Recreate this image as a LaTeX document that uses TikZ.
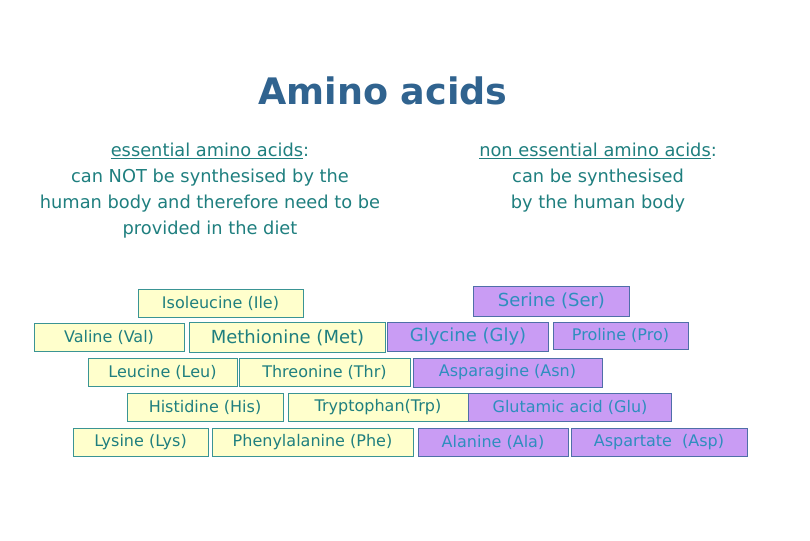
\documentclass[tikz,border=0pt]{standalone}
\usepackage{fontspec}
\setmainfont{DejaVu Sans}
\definecolor{titleblue}{HTML}{30638F}
\definecolor{tealtext}{HTML}{1F7F7F}
\definecolor{yfill}{HTML}{FFFFCC}
\definecolor{yborder}{HTML}{3A9494}
\definecolor{pfill}{HTML}{C99CF4}
\definecolor{pborder}{HTML}{4F6FA8}
\definecolor{ptext}{HTML}{2E8EBE}
\begin{document}
\begin{tikzpicture}[x=1pt,y=-1pt,
  ess/.style={draw=yborder, fill=yfill, line width=1pt, inner sep=0pt, text=tealtext, font=\fontsize{16}{18}\selectfont},
  non/.style={draw=pborder, fill=pfill, line width=1pt, inner sep=0pt, text=ptext, font=\fontsize{16}{18}\selectfont},
  big/.style={font=\fontsize{18}{20}\selectfont},
  desc/.style={text=tealtext, align=center, font=\fontsize{17.8}{26}\selectfont}]
\fill[white] (0,0) rectangle (810,540);
\path[use as bounding box] (0,0) rectangle (810,540);
\node[text=titleblue, font=\fontsize{36.5}{40}\selectfont\bfseries] (title) at (383,91) {Amino acids};
\node[desc] (ldesc) at (210,191) {\underline{essential amino acids}:\\can NOT be synthesised by the\\human body and therefore need to be\\provided in the diet};
\node[desc] (rdesc) at (598,178) {\underline{non essential amino acids}:\\can be synthesised\\by the human body};
% essential
\node[ess, minimum width=165pt, minimum height=28pt] (ile) at (220.5,303.5) {Isoleucine (Ile)};
\node[ess, minimum width=150pt, minimum height=28pt] (val) at (109,337.5) {Valine (Val)};
\node[ess, big, minimum width=196pt, minimum height=30pt] (met) at (287.5,337.5) {Methionine (Met)};
\node[ess, minimum width=149pt, minimum height=28pt] (leu) at (162.5,372) {Leucine (Leu)};
\node[ess, minimum width=171pt, minimum height=28pt] (thr) at (324.5,372) {Threonine (Thr)};
\node[ess, minimum width=156pt, minimum height=28pt] (his) at (205,407) {Histidine (His)};
\node[ess, minimum width=180pt, minimum height=28pt] (trp) at (378,407) {Tryptophan(Trp)};
\node[ess, minimum width=135pt, minimum height=28pt] (lys) at (140.5,442) {Lysine (Lys)};
\node[ess, minimum width=201pt, minimum height=28pt] (phe) at (312.5,442) {Phenylalanine (Phe)};
% non essential
\node[non, big, minimum width=156pt, minimum height=30pt] (ser) at (551.5,301) {Serine (Ser)};
\node[non, big, minimum width=161pt, minimum height=29pt] (gly) at (468,337) {Glycine (Gly)};
\node[non, minimum width=135pt, minimum height=27pt] (pro) at (620.5,335.5) {Proline (Pro)};
\node[non, minimum width=189pt, minimum height=29pt] (asn) at (507.5,372.5) {Asparagine (Asn)};
\node[non, minimum width=203pt, minimum height=28pt] (glu) at (570,407) {Glutamic acid (Glu)};
\node[non, minimum width=150pt, minimum height=28pt] (ala) at (493,442) {Alanine (Ala)};
\node[non, minimum width=176pt, minimum height=28pt] (asp) at (659,442) {Aspartate~~(Asp)};
\end{tikzpicture}
\end{document}
